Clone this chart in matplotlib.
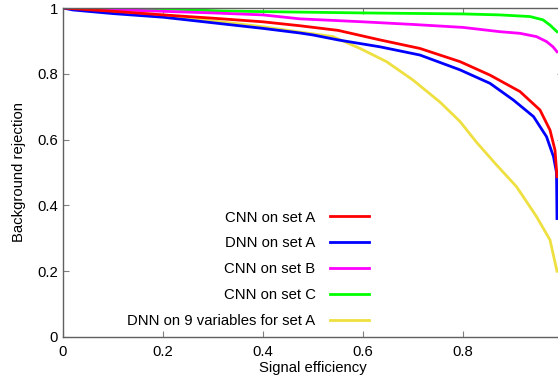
import numpy as np
import matplotlib
matplotlib.use("Agg")
import matplotlib.pyplot as plt
from matplotlib.ticker import FormatStrFormatter

plt.rcParams["font.family"] = ["Liberation Sans", "DejaVu Sans"]

# curves (signal efficiency -> background rejection)
x_cnn_a = [0.0, 0.1, 0.2, 0.3, 0.4, 0.474, 0.55, 0.634, 0.714, 0.794, 0.854, 0.914, 0.954, 0.974, 0.984, 0.988]
y_cnn_a = [1.0, 0.99, 0.979, 0.969, 0.958, 0.946, 0.932, 0.903, 0.877, 0.837, 0.796, 0.746, 0.69, 0.629, 0.568, 0.487]

x_dnn_a = [0.0, 0.02, 0.1, 0.2, 0.3, 0.4, 0.474, 0.5, 0.55, 0.634, 0.714, 0.794, 0.854, 0.901, 0.941, 0.967, 0.981, 0.987, 0.988]
y_dnn_a = [1.0, 0.994, 0.983, 0.972, 0.955, 0.938, 0.924, 0.918, 0.903, 0.882, 0.857, 0.812, 0.771, 0.72, 0.67, 0.609, 0.548, 0.5, 0.36]

x_cnn_b = [0.0, 0.1, 0.2, 0.3, 0.4, 0.474, 0.6, 0.7, 0.8, 0.874, 0.914, 0.947, 0.967, 0.98, 0.988]
y_cnn_b = [1.0, 0.995, 0.99, 0.985, 0.979, 0.967, 0.958, 0.95, 0.941, 0.928, 0.923, 0.913, 0.898, 0.882, 0.867]

x_cnn_c = [0.0, 0.214, 0.314, 0.4, 0.6, 0.8, 0.874, 0.934, 0.96, 0.974, 0.988]
y_cnn_c = [1.0, 0.997, 0.991, 0.989, 0.985, 0.982, 0.979, 0.974, 0.964, 0.948, 0.928]

x_dnn_9var = [0.0, 0.1, 0.2, 0.3, 0.4, 0.45, 0.54, 0.594, 0.647, 0.7, 0.754, 0.794, 0.827, 0.867, 0.907, 0.947, 0.974, 0.988]
y_dnn_9var = [1.0, 0.99, 0.979, 0.961, 0.943, 0.932, 0.913, 0.877, 0.837, 0.781, 0.714, 0.655, 0.592, 0.523, 0.457, 0.366, 0.295, 0.2]

labels = ["CNN on set A", "DNN on set A", "CNN on set B", "CNN on set C",
          "DNN on 9 variables for set A"]
colors = ["#ff0000", "#0000ff", "#ff00ff", "#00ff00", "#eee040"]

fig = plt.figure(figsize=(5.58, 3.83), dpi=100)
ax = fig.add_axes([63 / 558, 1 - 337 / 383, 500 / 558, 329 / 383])

curves = [(x_cnn_a, y_cnn_a), (x_dnn_a, y_dnn_a), (x_cnn_b, y_cnn_b),
          (x_cnn_c, y_cnn_c), (x_dnn_9var, y_dnn_9var)]
# draw yellow first so the others sit on top
order = [4, 3, 2, 1, 0]
handles = {}
for i in order:
    xs, ys = curves[i]
    (ln,) = ax.plot(xs, ys, color=colors[i], lw=2, label=labels[i])
    handles[i] = ln

ax.set_xlim(0, 1)
ax.set_ylim(0, 1)
ax.set_xticks([0, 0.2, 0.4, 0.6, 0.8])
ax.set_yticks([0, 0.2, 0.4, 0.6, 0.8, 1])
ax.xaxis.set_major_formatter(FormatStrFormatter("%g"))
ax.yaxis.set_major_formatter(FormatStrFormatter("%g"))
ax.tick_params(direction="in", length=4, color="#808080", labelsize=10.7,
               top=True, right=True)
ax.tick_params(axis="x", pad=6)
for s in ax.spines.values():
    s.set_color("#606060")
    s.set_linewidth(1)

ax.set_xlabel("Signal efficiency", fontsize=10.7, labelpad=1)
ax.set_ylabel("Background rejection", fontsize=10.7, labelpad=8)

leg = ax.legend([handles[i] for i in range(5)], labels, loc="lower right",
                bbox_to_anchor=(0.63, 0.0), frameon=False, markerfirst=False,
                fontsize=10.7, handlelength=2.65, handletextpad=0.95,
                labelspacing=0.8, borderaxespad=0.2)

fig.savefig("out.png", dpi=100)
